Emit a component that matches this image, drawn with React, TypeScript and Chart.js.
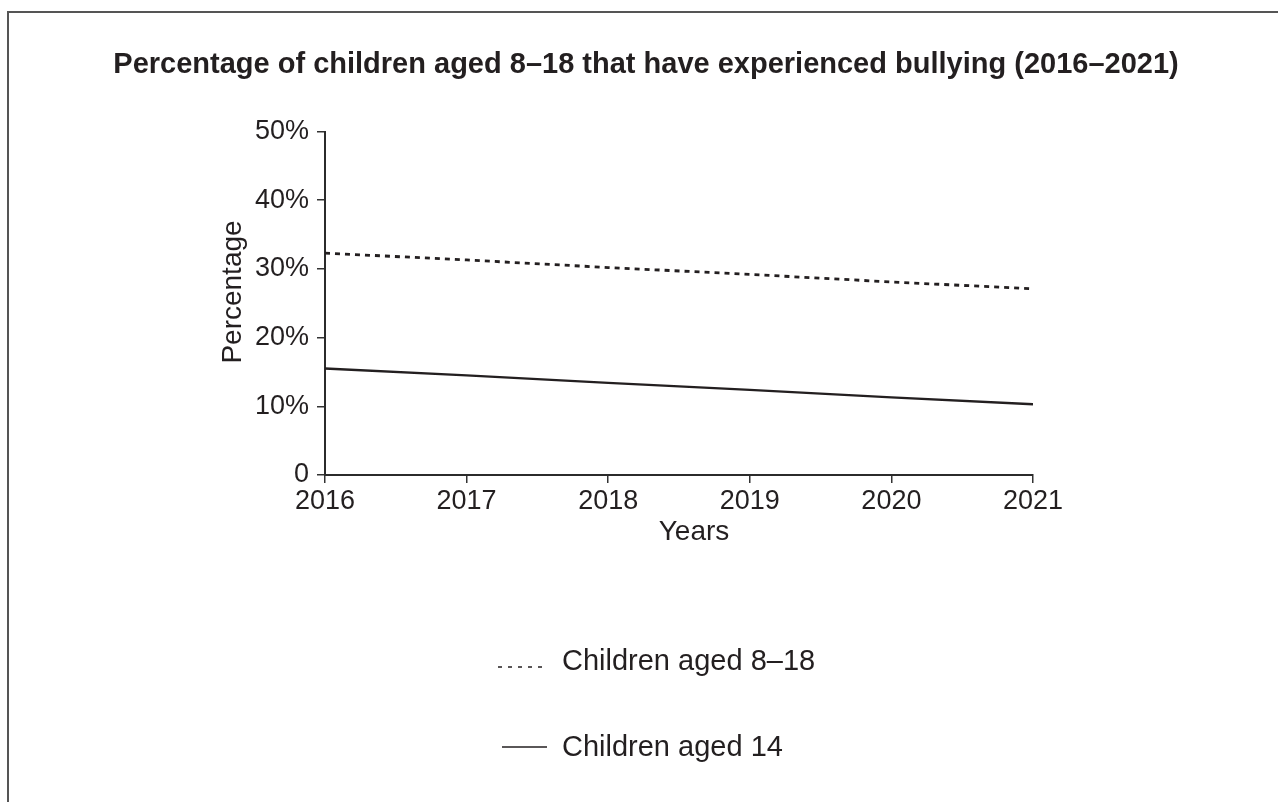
import React, { useEffect, useRef } from "react";
import { Chart, registerables } from "chart.js";

Chart.register(...registerables);

const titleText = "Percentage of children aged 8–18 that have experienced bullying (2016–2021)";
const xAxisTitle = "Years";
const yAxisTitle = "Percentage";
const years = ["2016", "2017", "2018", "2019", "2020", "2021"];
const seriesNames = ["Children aged 8–18", "Children aged 14"];
const aged8to18 = [32.3, 31.3, 30.2, 29.2, 28.1, 27.1];
const aged14 = [15.5, 14.5, 13.4, 12.4, 11.3, 10.3];
const yTickValues = [0, 10, 20, 30, 40, 50];

const FONT = "'Liberation Sans', Arial, Helvetica, sans-serif";
const INK = "#231f20";

const textsPlugin = {
  id: "texts",
  afterDraw(chart: any, _args: any, opts: any) {
    const ctx = chart.ctx;
    ctx.save();
    ctx.fillStyle = INK;
    ctx.textBaseline = "middle";
    ctx.textAlign = "center";
    // chart title
    ctx.font = `bold ${opts.titleSize}px ${FONT}`;
    ctx.fillText(opts.title, opts.titleX, opts.titleY);
    // x axis title
    ctx.font = `${opts.axisSize}px ${FONT}`;
    ctx.fillText(opts.xTitle, opts.xTitleX, opts.xTitleY);
    // y axis title
    ctx.translate(opts.yTitleX, opts.yTitleY);
    ctx.rotate(-Math.PI / 2);
    ctx.fillText(opts.yTitle, 0, 0);
    ctx.restore();
  },
};

const customLegend = {
  id: "customLegend",
  afterDraw(chart: any, _args: any, opts: any) {
    const ctx = chart.ctx;
    chart.data.datasets.forEach((ds: any, i: number) => {
      const row = opts.rows[i];
      ctx.save();
      ctx.strokeStyle = ds.borderColor;
      ctx.lineWidth = opts.sampleWidth;
      ctx.setLineDash(opts.dashes[i]);
      ctx.beginPath();
      ctx.moveTo(opts.sampleX[i][0], row.lineY);
      ctx.lineTo(opts.sampleX[i][1], row.lineY);
      ctx.stroke();
      ctx.setLineDash([]);
      ctx.fillStyle = INK;
      ctx.font = `${opts.fontSize}px ${FONT}`;
      ctx.textBaseline = "middle";
      ctx.textAlign = "left";
      ctx.fillText(ds.label, opts.textX, row.textY);
      ctx.restore();
    });
  },
};

export default function App() {
  const canvasRef = useRef<HTMLCanvasElement | null>(null);

  useEffect(() => {
    if (!canvasRef.current) return;
    const chart = new Chart(canvasRef.current, {
      type: "line",
      data: {
        labels: years,
        datasets: [
          {
            label: seriesNames[0],
            data: aged8to18,
            borderColor: INK,
            borderWidth: 2.8,
            borderDash: [5, 5],
            pointRadius: 0,
            tension: 0,
            fill: false,
          },
          {
            label: seriesNames[1],
            data: aged14,
            borderColor: INK,
            borderWidth: 2.3,
            pointRadius: 0,
            tension: 0,
            fill: false,
          },
        ],
      },
      options: {
        responsive: false,
        animation: false,
        devicePixelRatio: 1,
        layout: { padding: { left: 205, right: 245, top: 131.5, bottom: 247 } },
        plugins: {
          legend: { display: false },
          tooltip: { enabled: false },
          title: { display: false },
          texts: {
            title: titleText,
            titleSize: 29,
            titleX: 646,
            titleY: 65,
            axisSize: 28,
            xTitle: xAxisTitle,
            xTitleX: 694,
            xTitleY: 532,
            yTitle: yAxisTitle,
            yTitleX: 233,
            yTitleY: 292,
          },
          customLegend: {
            rows: [
              { lineY: 667, textY: 662 },
              { lineY: 747, textY: 748 },
            ],
            sampleX: [
              [498, 546],
              [502, 547],
            ],
            dashes: [[4, 6], []],
            sampleWidth: 1.6,
            textX: 562,
            fontSize: 29,
          },
        } as any,
        scales: {
          x: {
            type: "category",
            offset: false,
            grid: {
              display: true,
              drawOnChartArea: false,
              drawTicks: true,
              tickLength: 8,
              color: "#333",
              lineWidth: 1.5,
            },
            border: { display: true, color: "#2b2b2b", width: 2 },
            ticks: {
              color: INK,
              font: { family: FONT, size: 27 },
              padding: 2,
              maxRotation: 0,
              autoSkip: false,
            },
            title: { display: false },
            afterFit: (s: any) => {
              s.height = 80;
            },
          },
          y: {
            type: "linear",
            min: 0,
            max: 50,
            afterBuildTicks: (s: any) => {
              s.ticks = yTickValues.map((v) => ({ value: v }));
            },
            grid: {
              display: true,
              drawOnChartArea: false,
              drawTicks: true,
              tickLength: 8,
              color: "#333",
              lineWidth: 1.5,
            },
            border: { display: true, color: "#2b2b2b", width: 2 },
            ticks: {
              color: INK,
              font: { family: FONT, size: 27 },
              padding: 8,
              callback: (v: any) => (Number(v) === 0 ? "0" : `${v}%`),
            },
            title: { display: false },
            afterFit: (s: any) => {
              s.width = 120;
            },
          },
        },
      },
      plugins: [textsPlugin, customLegend],
    });
    return () => chart.destroy();
  }, []);

  return (
    <div
      style={{
        position: "fixed",
        left: 0,
        top: 0,
        width: 1278,
        height: 802,
        background: "#fff",
        overflow: "hidden",
      }}
    >
      <div
        style={{
          position: "absolute",
          left: 7,
          top: 11,
          right: 0,
          bottom: 0,
          borderLeft: "2px solid #555",
          borderTop: "2px solid #555",
        }}
      />
      <canvas
        ref={canvasRef}
        width={1278}
        height={802}
        style={{ position: "absolute", left: 0, top: 0, width: 1278, height: 802 }}
      />
    </div>
  );
}
